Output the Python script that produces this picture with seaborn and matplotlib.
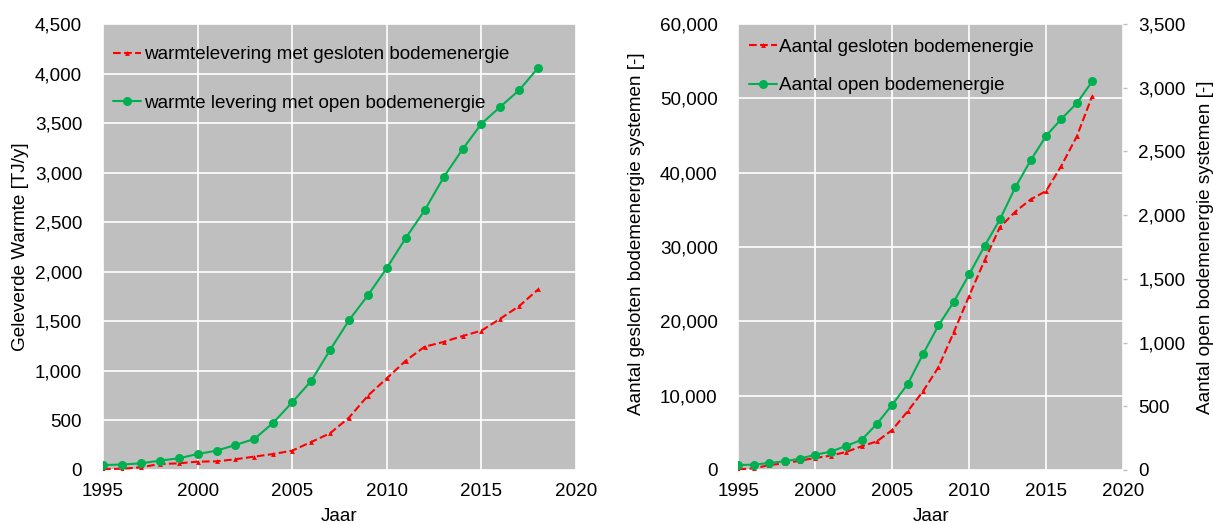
import pandas as pd
import matplotlib
matplotlib.use("Agg")
import matplotlib.pyplot as plt
import matplotlib.ticker as mticker
import seaborn as sns

YEARS = list(range(1995, 2019))

# warmtelevering [TJ/y]
WARMTE_GESLOTEN = [10, 12, 27, 60, 67, 84, 87, 108, 135, 161, 195, 282,
                   370, 528, 750, 925, 1103, 1244, 1292, 1352, 1406, 1527, 1655, 1823]
WARMTE_OPEN = [50, 55, 67, 94, 118, 161, 195, 252, 313, 477, 683, 898,
               1211, 1510, 1763, 2038, 2341, 2620, 2953, 3236, 3494, 3666, 3834, 4059]

# aantal systemen [-]
AANTAL_GESLOTEN = [100, 200, 670, 890, 1250, 1620, 1930, 2420, 3180, 3850, 5390, 7900,
                   10590, 13820, 18530, 23440, 28190, 32680, 34750, 36410, 37530, 40950, 44900, 50320]
AANTAL_OPEN = [39, 42, 55, 68, 89, 120, 144, 189, 236, 362, 513, 673,
               909, 1134, 1320, 1535, 1758, 1967, 2219, 2431, 2622, 2756, 2879, 3050]

RED = "#FF0000"
GREEN = "#00B050"
FS = 13.6

sns.set_style("whitegrid", {"axes.facecolor": "#BFBFBF", "grid.color": "white",
                            "axes.edgecolor": "#BFBFBF", "text.color": "black",
                            "axes.labelcolor": "black", "xtick.color": "black",
                            "ytick.color": "black"})
plt.rcParams["font.family"] = ["Liberation Sans", "DejaVu Sans"]

df = pd.DataFrame({
    "Jaar": YEARS,
    "warmte_gesloten": WARMTE_GESLOTEN,
    "warmte_open": WARMTE_OPEN,
    "aantal_gesloten": AANTAL_GESLOTEN,
    "aantal_open": AANTAL_OPEN,
})

thousands = mticker.FuncFormatter(lambda v, _: f"{v:,.0f}")

fig = plt.figure(figsize=(12.13, 5.24), dpi=100)
ax1 = fig.add_axes([0.0849, 0.1031, 0.390, 0.851])
ax2 = fig.add_axes([0.6088, 0.1031, 0.317, 0.851])

red_kw = dict(color=RED, linestyle="--", dashes=(4, 3), lw=1.5, marker="^", markersize=3.5,
              markeredgewidth=0)
green_kw = dict(color=GREEN, lw=1.5, marker="o", markersize=6.5, markeredgewidth=0)


def style_axes(ax, ymax, ystep):
    ax.set_xlim(1995, 2020)
    ax.set_ylim(0, ymax)
    ax.set_xticks(range(1995, 2021, 5))
    ax.set_yticks(range(0, ymax + 1, ystep))
    ax.yaxis.set_major_formatter(thousands)
    ax.grid(True, color="white", lw=1.2)
    for s in ax.spines.values():
        s.set_visible(False)
    ax.tick_params(axis="y", length=0, pad=15, labelsize=FS, labelcolor="black")
    ax.tick_params(axis="x", length=0, pad=9.5, labelsize=FS, labelcolor="black")
    ax.set_xlabel("Jaar", fontsize=FS, color="black")
    ax.xaxis.set_label_coords(0.5, -0.085)


# left chart: warmtelevering
sns.lineplot(data=df, x="Jaar", y="warmte_gesloten", ax=ax1,
             label="warmtelevering met gesloten bodemenergie", **red_kw)
sns.lineplot(data=df, x="Jaar", y="warmte_open", ax=ax1,
             label="warmte levering met open bodemenergie", **green_kw)
style_axes(ax1, 4500, 500)
ax1.set_ylabel("Geleverde Warmte [TJ/y]", fontsize=FS, color="black")
ax1.yaxis.set_label_coords(-0.156, 0.5)
ax1.legend(loc="upper left", bbox_to_anchor=(0.022, 0.951), frameon=False, fontsize=FS,
           borderaxespad=0, borderpad=0, handlelength=1.45, handletextpad=0.15,
           labelspacing=1.65)

# right chart: aantal systemen, twee assen
sns.lineplot(data=df, x="Jaar", y="aantal_gesloten", ax=ax2, legend=False, **red_kw)
style_axes(ax2, 60000, 10000)
ax2.set_ylabel("Aantal gesloten bodemenergie systemen [-]", fontsize=FS, color="black")
ax2.yaxis.set_label_coords(-0.243, 0.53)

ax3 = ax2.twinx()
sns.lineplot(data=df, x="Jaar", y="aantal_open", ax=ax3, legend=False, **green_kw)
ax3.set_ylim(0, 3500)
ax3.set_yticks(range(0, 3501, 500))
ax3.yaxis.set_major_formatter(thousands)
ax3.grid(False)
for s in ax3.spines.values():
    s.set_visible(False)
ax3.tick_params(axis="y", length=3, width=1, color="#BFBFBF", pad=8, labelsize=FS,
                labelcolor="black")
ax3.set_ylabel("Aantal open bodemenergie systemen [-]", fontsize=FS, color="black")
ax3.yaxis.set_label_coords(1.1925, 0.5)

h_red = ax2.get_lines()[0]
h_green = ax3.get_lines()[0]
ax3.legend([h_red, h_green], ["Aantal gesloten bodemenergie", "Aantal open bodemenergie"],
           loc="upper left", bbox_to_anchor=(0.028, 0.968), frameon=False, fontsize=FS,
           borderaxespad=0, borderpad=0, handlelength=1.45, handletextpad=0.15,
           labelspacing=1.15)

fig.savefig("out.png", dpi=100)
